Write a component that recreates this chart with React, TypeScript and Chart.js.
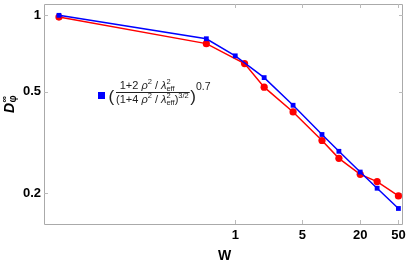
import React, { useEffect, useRef } from 'react';
import { Chart, registerables } from 'chart.js';

Chart.register(...registerables);

// ---- data ----
const W_BLUE = [0.0146, 0.5, 1, 2, 4, 8, 12, 20, 30, 50];
const D_BLUE = [1.0, 0.809, 0.693, 0.569, 0.443, 0.34, 0.292, 0.242, 0.209, 0.174];
const W_RED = [0.0146, 0.5, 1.25, 2, 4, 8, 12, 20, 30, 50];
const D_RED = [0.984, 0.774, 0.646, 0.522, 0.417, 0.322, 0.274, 0.237, 0.222, 0.195];
const X_TICKS = [1, 5, 20, 50];
const Y_TICKS = [0.2, 0.5, 1];
const X_TITLE = 'W';

const FONT = '"Liberation Sans", Arial, sans-serif';
const FRAME = '#aaaaaa';

type Run = { t: string; size: number; italic?: boolean; dy?: number; noAdvance?: boolean };

function runsWidth(ctx: CanvasRenderingContext2D, runs: Run[]) {
  let w = 0;
  for (const r of runs) {
    ctx.font = `${r.italic ? 'italic ' : ''}${r.size}px ${FONT}`;
    if (!r.noAdvance) w += ctx.measureText(r.t).width;
  }
  return w;
}

function drawRuns(ctx: CanvasRenderingContext2D, runs: Run[], x: number, y: number) {
  let cx = x;
  for (const r of runs) {
    ctx.font = `${r.italic ? 'italic ' : ''}${r.size}px ${FONT}`;
    ctx.fillText(r.t, cx, y + (r.dy || 0));
    if (!r.noAdvance) cx += ctx.measureText(r.t).width;
  }
  return cx;
}

const overlayPlugin = {
  id: 'overlay',
  beforeDatasetsDraw(chart: any) {
    const { ctx, chartArea } = chart;
    const { left, right, top, bottom } = chartArea;
    const xs = chart.scales.x;
    const ys = chart.scales.y;
    ctx.save();
    ctx.strokeStyle = FRAME;
    ctx.lineWidth = 1;
    ctx.beginPath();
    ctx.rect(left + 0.5, top + 0.5, right - left - 1, bottom - top);
    ctx.stroke();
    ctx.strokeStyle = '#bbbbbb';
    ctx.beginPath();
    for (const v of X_TICKS) {
      const px = Math.round(xs.getPixelForValue(v)) + 0.5;
      ctx.moveTo(px, bottom);
      ctx.lineTo(px, bottom - 4);
      ctx.moveTo(px, top);
      ctx.lineTo(px, top + 4);
    }
    for (const v of Y_TICKS) {
      const py = Math.round(ys.getPixelForValue(v)) + 0.5;
      ctx.moveTo(left, py);
      ctx.lineTo(left + 4, py);
      ctx.moveTo(right, py);
      ctx.lineTo(right - 4, py);
    }
    ctx.stroke();
    ctx.restore();
  },
  afterDraw(chart: any) {
    const { ctx, chartArea } = chart;
    ctx.save();
    ctx.fillStyle = '#000';
    // x title
    ctx.font = `bold 14px ${FONT}`;
    ctx.textAlign = 'center';
    ctx.textBaseline = 'alphabetic';
    ctx.fillText(X_TITLE, (chartArea.left + chartArea.right) / 2 + 1, 260);
    // y title  D_phi^inf rotated
    ctx.save();
    ctx.translate(13.5, 113);
    ctx.rotate(-Math.PI / 2);
    ctx.textAlign = 'left';
    ctx.font = `italic bold 14px ${FONT}`;
    ctx.fillText('D', 0, 0);
    const dw = ctx.measureText('D').width;
    ctx.font = `bold 9px ${FONT}`;
    ctx.fillText('∞', dw + 0.5, -6.5);
    ctx.font = `bold 10px ${FONT}`;
    ctx.fillText('φ', dw + 0.5, 2);
    ctx.restore();

    // legend
    ctx.fillStyle = '#0000ff';
    ctx.fillRect(98, 92, 7, 7);
    ctx.fillStyle = '#222';
    ctx.textAlign = 'left';
    ctx.font = `17px ${FONT}`;
    ctx.fillText('(', 108.5, 102);
    const main = 11;
    const sc = 7.5;
    const numer: Run[] = [
      { t: '1+2 ', size: main },
      { t: 'ρ', size: main, italic: true },
      { t: '2', size: sc, dy: -4.5 },
      { t: ' / ', size: main },
      { t: 'λ', size: main, italic: true },
      { t: '2', size: sc, dy: -4.5, noAdvance: true },
      { t: 'eff', size: sc, dy: 2 },
    ];
    const denomMain: Run[] = [
      { t: '(1+4 ', size: main },
      { t: 'ρ', size: main, italic: true },
      { t: '2', size: sc, dy: -4.5 },
      { t: ' / ', size: main },
      { t: 'λ', size: main, italic: true },
      { t: '2', size: sc, dy: -4.5, noAdvance: true },
      { t: 'eff', size: sc, dy: 2 },
      { t: ')', size: main },
    ];
    const denomSup: Run[] = [{ t: '3/2', size: sc, dy: -5 }];
    const dStart = 116;
    const dMainW = runsWidth(ctx, denomMain);
    const dSupW = runsWidth(ctx, denomSup);
    const nW = runsWidth(ctx, numer);
    drawRuns(ctx, numer, dStart + (dMainW - nW) / 2, 88.5);
    const endX = drawRuns(ctx, denomMain, dStart, 102.5);
    drawRuns(ctx, denomSup, endX, 102.5);
    const barEnd = dStart + dMainW + dSupW + 1;
    ctx.strokeStyle = '#222';
    ctx.lineWidth = 1;
    ctx.beginPath();
    ctx.moveTo(dStart, 92.5);
    ctx.lineTo(barEnd, 92.5);
    ctx.stroke();
    ctx.font = `17px ${FONT}`;
    ctx.fillText(')', barEnd + 0.5, 102);
    const pw = ctx.measureText(')').width;
    ctx.font = `10.5px ${FONT}`;
    ctx.fillText('0.7', barEnd + pw + 0.5, 90);
    ctx.restore();
  },
};

export default function App() {
  const ref = useRef<HTMLCanvasElement | null>(null);
  useEffect(() => {
    if (!ref.current) return;
    const blue = W_BLUE.map((x, i) => ({ x, y: D_BLUE[i] }));
    const red = W_RED.map((x, i) => ({ x, y: D_RED[i] }));
    const tickFont = { family: FONT, weight: 'bold' as const, size: 13 };
    const chart = new Chart(ref.current, {
      type: 'scatter',
      data: {
        datasets: [
          {
            data: blue,
            showLine: true,
            borderColor: '#0000ff',
            backgroundColor: '#0000ff',
            borderWidth: 1.5,
            pointStyle: 'rect',
            pointRadius: 3.4,
            pointBorderWidth: 0,
            clip: false as any,
          },
          {
            data: red,
            showLine: true,
            borderColor: '#ff0000',
            backgroundColor: '#ff0000',
            borderWidth: 1.5,
            pointStyle: 'circle',
            pointRadius: 3.6,
            pointBorderWidth: 0,
            clip: false as any,
          },
        ],
      },
      options: {
        animation: false,
        responsive: false,
        maintainAspectRatio: false,
        layout: { padding: { top: 0, right: 3, left: 0, bottom: 0 } },
        plugins: { legend: { display: false }, tooltip: { enabled: false } },
        scales: {
          x: {
            type: 'logarithmic',
            min: 0.0102,
            max: 55.8,
            afterBuildTicks: (s: any) => {
              s.ticks = X_TICKS.map((v) => ({ value: v }));
            },
            afterFit: (s: any) => {
              s.height = 37;
              s.paddingLeft = 0;
              s.paddingRight = 0;
            },
            ticks: {
              callback: (v: any) => String(v),
              font: tickFont,
              color: '#000',
              padding: 4,
              maxRotation: 0,
              autoSkip: false,
            },
            grid: { display: false, drawTicks: false },
            border: { display: false },
          },
          y: {
            type: 'logarithmic',
            min: 0.1512,
            max: 1.108,
            afterBuildTicks: (s: any) => {
              s.ticks = Y_TICKS.map((v) => ({ value: v }));
            },
            afterFit: (s: any) => {
              s.width = 44;
              s.paddingTop = 0;
              s.paddingBottom = 0;
            },
            ticks: {
              callback: (v: any) => String(v),
              font: tickFont,
              color: '#000',
              padding: 3,
              autoSkip: false,
            },
            grid: { display: false, drawTicks: false },
            border: { display: false },
          },
        },
      },
      plugins: [overlayPlugin],
    });
    return () => chart.destroy();
  }, []);
  return (
    <div style={{ position: 'fixed', left: 0, top: 0, width: 407, height: 261, background: '#fff' }}>
      <canvas ref={ref} width={407} height={261} style={{ display: 'block', width: 407, height: 261 }} />
    </div>
  );
}
